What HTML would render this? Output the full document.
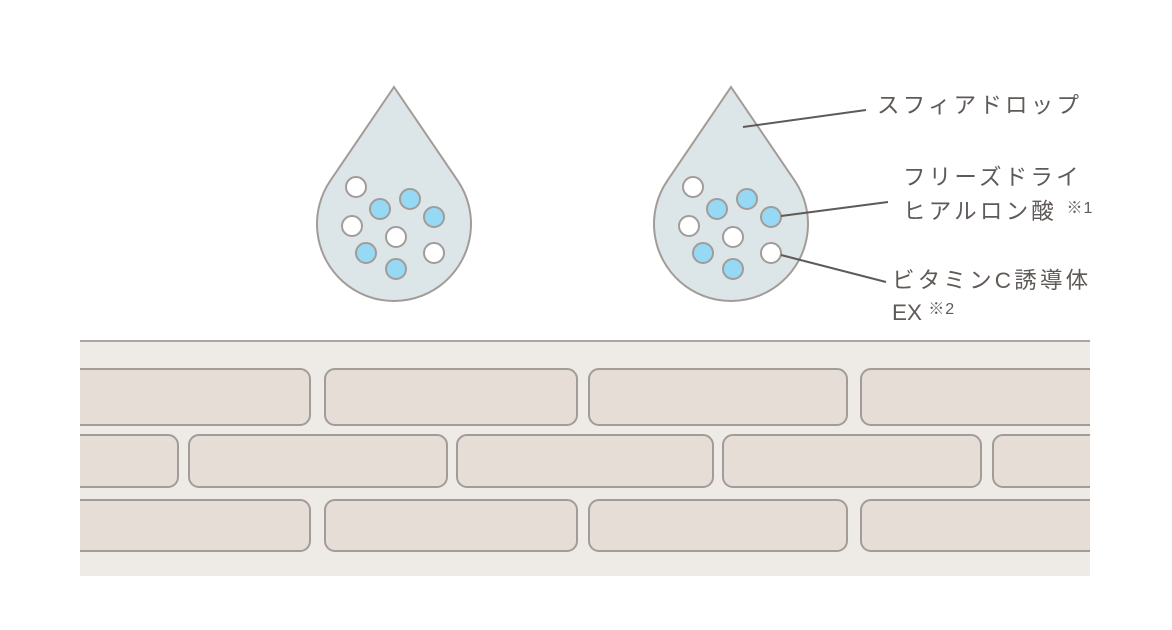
<!DOCTYPE html>
<html><head><meta charset="utf-8"><style>
body{margin:0;background:#fff;}
svg{display:block}
text{font-family:"Liberation Sans","Noto Sans CJK JP",sans-serif;fill:#5f5a57;font-size:22.5px;letter-spacing:3.2px;}
</style></head><body>
<svg width="1172" height="630" viewBox="0 0 1172 630">
<defs>
<clipPath id="c"><rect x="80" y="340" width="1010" height="240"/></clipPath>
</defs>
<rect x="80" y="341" width="1010" height="235" fill="#eeebe7"/>
<line x1="80" y1="341" x2="1090" y2="341" stroke="#aaa5a1" stroke-width="2"/>
<g clip-path="url(#c)" fill="#e6ded6" stroke="#a29c98" stroke-width="2">
<rect x="60" y="369" width="250" height="56" rx="10"/>
<rect x="325" y="369" width="252" height="56" rx="10"/>
<rect x="589" y="369" width="258" height="56" rx="10"/>
<rect x="861" y="369" width="260" height="56" rx="10"/>
<rect x="60" y="435" width="118" height="52" rx="10"/>
<rect x="189" y="435" width="258" height="52" rx="10"/>
<rect x="457" y="435" width="256" height="52" rx="10"/>
<rect x="723" y="435" width="258" height="52" rx="10"/>
<rect x="993" y="435" width="130" height="52" rx="10"/>
<rect x="60" y="500" width="250" height="51" rx="10"/>
<rect x="325" y="500" width="252" height="51" rx="10"/>
<rect x="589" y="500" width="258" height="51" rx="10"/>
<rect x="861" y="500" width="260" height="51" rx="10"/>
</g>
<g id="d1">
<path d="M394 87 L457.7 180.7 A77 77 0 1 1 330.3 180.7 Z" fill="#dce5e7" stroke="#a29c98" stroke-width="2"/>
<g stroke="#a29c98" stroke-width="2">
<circle cx="356" cy="187" r="10" fill="#fff"/>
<circle cx="380" cy="209" r="10" fill="#96d9f4"/>
<circle cx="410" cy="199" r="10" fill="#96d9f4"/>
<circle cx="434" cy="217" r="10" fill="#96d9f4"/>
<circle cx="352" cy="226" r="10" fill="#fff"/>
<circle cx="396" cy="237" r="10" fill="#fff"/>
<circle cx="366" cy="253" r="10" fill="#96d9f4"/>
<circle cx="434" cy="253" r="10" fill="#fff"/>
<circle cx="396" cy="269" r="10" fill="#96d9f4"/>
</g>
</g>
<use href="#d1" x="337"/>
<g stroke="#5f5a57" stroke-width="2">
<line x1="743" y1="127" x2="866" y2="110"/>
<line x1="781" y1="216" x2="888" y2="202"/>
<line x1="781" y1="255" x2="886" y2="282"/>
</g>
<text x="877" y="113">スフィアドロップ</text>
<text x="903" y="185">フリーズドライ</text>
<text x="903" y="219">ヒアルロン酸 <tspan dy="-6" style="font-size:16px;letter-spacing:1px">※1</tspan></text>
<text x="892" y="288">ビタミンC誘導体</text>
<text x="892" y="320" style="letter-spacing:0">EX <tspan dy="-6" style="font-size:16px;letter-spacing:1px">※2</tspan></text>
</svg>
</body></html>
